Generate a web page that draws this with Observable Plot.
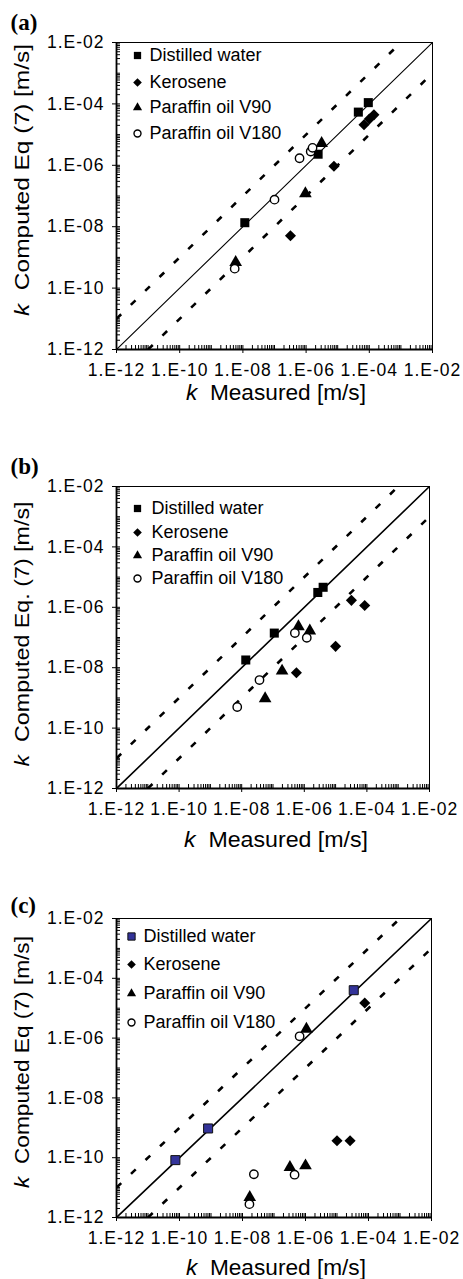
<!DOCTYPE html>
<html><head><meta charset="utf-8">
<script src="https://cdn.jsdelivr.net/npm/d3@7"></script>
<script src="https://cdn.jsdelivr.net/npm/@observablehq/plot@0.6"></script>
<style>
html,body{margin:0;padding:0;background:#fff;}
#chart{width:463px;}
#chart svg{display:block;}
g[aria-label$="tick label"] text{letter-spacing:1px;}
</style></head><body><div id="chart"></div>
<script>
// ---------- data ----------
const seriesNames = ["Distilled water", "Kerosene", "Paraffin oil V90", "Paraffin oil V180"];
const panelLetters = ["(a)", "(b)", "(c)"];
const yTitles = ["Computed Eq (7) [m/s]", "Computed Eq. (7) [m/s]", "Computed Eq (7) [m/s]"];
const xTitle = "Measured [m/s]";
const axisDomain = [1e-12, 1e-2];
const majorTicks = [1e-12, 1e-10, 1e-8, 1e-6, 1e-4, 1e-2];
const majorTickLabels = ["1.E-12", "1.E-10", "1.E-08", "1.E-06", "1.E-04", "1.E-02"];
const bandFactor = 10;

// Panel (a)
const aWaterX = [1.15e-8, 2.4e-6, 4.5e-5, 9.3e-5];
const aWaterY = [1.35e-8, 2.3e-6, 5.4e-5, 1.1e-4];
const aKeroX = [3.2e-7, 7.6e-6, 6.8e-5, 1.0e-4, 1.4e-4];
const aKeroY = [5.1e-9, 9.3e-7, 2.1e-5, 3.2e-5, 4.4e-5];
const aV90X = [5.9e-9, 9.5e-7, 3.1e-6];
const aV90Y = [6.9e-10, 1.2e-7, 5.2e-6];
const aV180X = [5.5e-9, 1.0e-7, 6.2e-7, 1.4e-6, 1.6e-6];
const aV180Y = [4.3e-10, 7.6e-8, 1.7e-6, 2.8e-6, 3.7e-6];
// Panel (b)
const bWaterX = [1.35e-8, 1.1e-7, 2.7e-6, 4.0e-6];
const bWaterY = [1.8e-8, 1.4e-7, 3.1e-6, 4.6e-6];
const bKeroX = [5.6e-7, 1.0e-5, 3.2e-5, 8.5e-5];
const bKeroY = [6.8e-9, 5.1e-8, 1.7e-6, 1.15e-6];
const bV90X = [5.6e-8, 1.95e-7, 6.5e-7, 1.5e-6];
const bV90Y = [9.5e-10, 7.8e-9, 2.3e-7, 1.65e-7];
const bV180X = [7.2e-9, 3.7e-8, 5.0e-7, 1.2e-6];
const bV180Y = [5.0e-10, 3.9e-9, 1.4e-7, 9.8e-8];
// Panel (c)
const cWaterX = [7.4e-11, 8.1e-10, 3.4e-5];
const cWaterY = [8.3e-11, 9.5e-10, 4.0e-5];
const cKeroX = [1.0e-5, 2.6e-5, 7.6e-5];
const cKeroY = [3.7e-10, 3.7e-10, 1.5e-5];
const cV90X = [1.7e-8, 3.2e-7, 1.0e-6, 1.07e-6];
const cV90Y = [4.7e-12, 4.8e-11, 5.4e-11, 2.0e-6];
const cV180X = [1.66e-8, 2.3e-8, 4.5e-7, 6.5e-7];
const cV180Y = [2.8e-12, 2.8e-11, 2.7e-11, 1.15e-6];

// ---------- layout / style ----------
const FONT = "'Liberation Sans', Arial, Helvetica, sans-serif";
const SERIF = "'Liberation Serif', 'Times New Roman', serif";
const W = 463;
const layouts = [
  {height: 425, mt: 42, mb: 76, mr: 31, diagW: 1.1, letterDy: -20, legDx: 21, legTextDx: 33, legDy: [13, 40, 65, 91], xTitleY: 400, xTitleLen: 180, yTitleCy: 180, yTitleLen: 272, waterFill: "#000"},
  {height: 435, mt: 61, mb: 72, mr: 34, diagW: 1.6, letterDy: -20, legDx: 21, legTextDx: 35, legDy: [22, 46, 69, 92], xTitleY: 422, xTitleLen: 184, yTitleCy: 209, yTitleLen: 265, waterFill: "#000"},
  {height: 419, mt: 58, mb: 62, mr: 32, diagW: 1.6, letterDy: -13, legDx: 15, legTextDx: 27, legDy: [18, 46, 75, 104], xTitleY: 415, xTitleLen: 180, yTitleCy: 202, yTitleLen: 252, waterFill: "#333399"}
];
const ML = 116;

const minorTicks = [];
for (let e = -12; e < -2; e++) for (let m = 1; m < 10; m++) {
  if (m === 1 && e % 2 === 0) continue;
  minorTicks.push(m * Math.pow(10, e));
}
const labelOf = new Map(majorTicks.map((t, i) => [t, majorTickLabels[i]]));

const panelSeries = [
  [[aWaterX, aWaterY], [aKeroX, aKeroY], [aV90X, aV90Y], [aV180X, aV180Y]],
  [[bWaterX, bWaterY], [bKeroX, bKeroY], [bV90X, bV90Y], [bV180X, bV180Y]],
  [[cWaterX, cWaterY], [cKeroX, cKeroY], [cV90X, cV90Y], [cV180X, cV180Y]]
];

function toPoints(xs, ys) { return xs.map((x, i) => ({x, y: ys[i]})); }

function makePanel(p) {
  const L = layouts[p];
  const fw = W - ML - L.mr;            // frame width
  const fh = L.height - L.mt - L.mb;   // frame height
  const styles = [
    {symbol: "square", r: 5.1, lr: 4.1, fill: L.waterFill, stroke: p === 2 ? "#111" : "none", strokeWidth: 1},
    {symbol: "diamond2", r: 5.0, lr: 3.9, fill: "#000", stroke: "none", strokeWidth: 0},
    {symbol: "triangle", r: 4.7, lr: 3.4, fill: "#000", stroke: "none", strokeWidth: 0},
    {symbol: "circle", r: 4.2, lr: 3.5, fill: "#fff", stroke: "#000", strokeWidth: 1.4}
  ];
  const diag = axisDomain.map(v => ({x: v, y: v}));
  const upper = [axisDomain[0], axisDomain[1] / bandFactor].map(v => ({x: v, y: v * bandFactor}));
  const lower = [axisDomain[0] * bandFactor, axisDomain[1]].map(v => ({x: v, y: v / bandFactor}));

  const dashStyle = {x: "x", y: "y", stroke: "#000", strokeWidth: 2.6, strokeDasharray: "6.5,13.5", strokeLinecap: "butt", clip: true};
  const tickStyle = {stroke: "#000", strokeWidth: 1};
  const marks = [
    Plot.line(upper, dashStyle),
    Plot.line(lower, dashStyle),
    Plot.line(diag, {x: "x", y: "y", stroke: "#000", strokeWidth: L.diagW, clip: true}),
    Plot.frame({stroke: "#000", strokeWidth: 1}),
    Plot.ruleX([axisDomain[0]], {stroke: "#000", strokeWidth: 1.8}),
    Plot.ruleY([axisDomain[0]], {stroke: "#000", strokeWidth: 1.8}),
    // minor ticks (inside) and major ticks (crossing) along x
    Plot.ruleX(minorTicks, {x: d => d, insetTop: fh - 4, ...tickStyle}),
    Plot.ruleX(majorTicks, {x: d => d, insetTop: fh - 4, insetBottom: -4, ...tickStyle}),
    // along y
    Plot.ruleY(minorTicks, {y: d => d, insetRight: fw - 4, ...tickStyle}),
    Plot.ruleY(majorTicks, {y: d => d, insetRight: fw - 4, insetLeft: -4, ...tickStyle}),
    Plot.axisX(majorTicks, {anchor: "bottom", tickSize: 0, tickPadding: 14, tickFormat: d => labelOf.get(d), fontSize: 17.5, fill: "#000", label: null}),
    Plot.axisY(majorTicks, {anchor: "left", tickSize: 0, tickPadding: 12, tickFormat: d => labelOf.get(d), fontSize: 17.5, fill: "#000", label: null})
  ];
  panelSeries[p].forEach(([xs, ys], k) => {
    const s = styles[k];
    marks.push(Plot.dot(toPoints(xs, ys), {x: "x", y: "y", symbol: s.symbol, r: s.r, fill: s.fill, stroke: s.stroke, strokeWidth: s.strokeWidth}));
    marks.push(Plot.dot([seriesNames[k]], {frameAnchor: "top-left", dx: L.legDx, dy: L.legDy[k], symbol: s.symbol, r: s.lr, fill: s.fill, stroke: s.stroke, strokeWidth: s.strokeWidth}));
    marks.push(Plot.text([seriesNames[k]], {frameAnchor: "top-left", dx: L.legTextDx, dy: L.legDy[k], text: d => d, textAnchor: "start", lineAnchor: "middle", fontSize: 18, fill: "#000"}));
  });
  marks.push(Plot.text([panelLetters[p]], {frameAnchor: "top-left", dx: 10 - ML, dy: L.letterDy, text: d => d, textAnchor: "start", lineAnchor: "middle", fontSize: 23, fontWeight: "bold", fontFamily: SERIF, fill: "#000"}));

  const svg = Plot.plot({
    width: W, height: L.height,
    marginLeft: ML, marginRight: L.mr, marginTop: L.mt, marginBottom: L.mb,
    style: {background: "#fff", color: "#000", fontFamily: FONT, overflow: "visible"},
    x: {type: "log", domain: axisDomain, axis: null, label: null},
    y: {type: "log", domain: axisDomain, axis: null, label: null},
    marks
  });

  const s = d3.select(svg);
  const xt = s.append("text")
    .attr("x", 276).attr("y", L.xTitleY)
    .attr("text-anchor", "middle").attr("font-family", FONT).attr("font-size", 22).attr("fill", "#000")
    .attr("textLength", L.xTitleLen).attr("lengthAdjust", "spacingAndGlyphs");
  xt.append("tspan").attr("font-style", "italic").text("k");
  xt.append("tspan").text("\u00a0 " + xTitle);

  const yt = s.append("text")
    .attr("transform", `translate(29,${L.yTitleCy}) rotate(-90)`)
    .attr("text-anchor", "middle").attr("font-family", FONT).attr("font-size", 21).attr("fill", "#000")
    .attr("textLength", L.yTitleLen).attr("lengthAdjust", "spacingAndGlyphs");
  yt.append("tspan").attr("font-style", "italic").text("k");
  yt.append("tspan").text("\u00a0 " + yTitles[p]);
  return svg;
}

const chart = document.getElementById("chart");
for (let p = 0; p < 3; p++) chart.appendChild(makePanel(p));
</script>
</body></html>
